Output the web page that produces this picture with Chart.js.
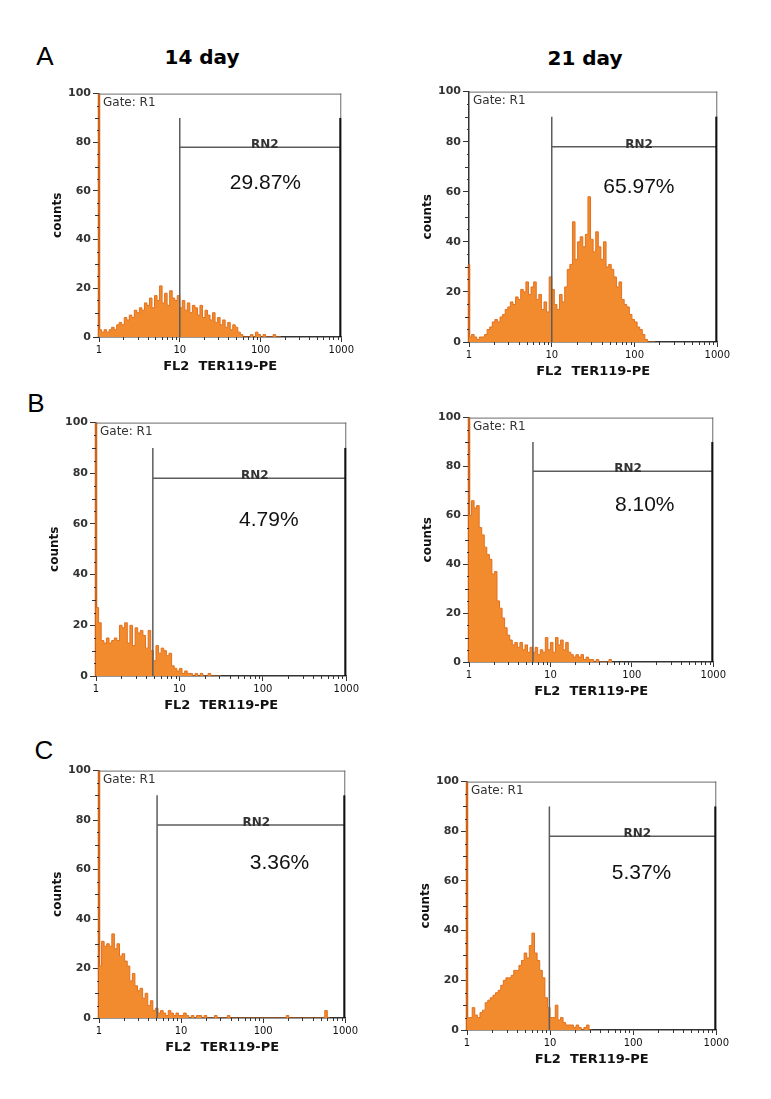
<!DOCTYPE html>
<html>
<head>
<meta charset="utf-8">
<script src="https://cdn.jsdelivr.net/npm/chart.js@4.4.1/dist/chart.umd.min.js"></script>
<style>
  body { margin: 0; background: #fff; width: 771px; height: 1099px; position: relative; overflow: hidden; }
  canvas { position: absolute; }
  .lbl { position: absolute; color: #000; transform: translate(-50%, -50%); white-space: nowrap; line-height: 1; }
  .day { font: bold 20px 'DejaVu Sans', sans-serif; }
  .row { font: 26px 'Liberation Sans', Arial, sans-serif; }
</style>
</head>
<body>
<script>
// --- data ---
const BINS_PER_DECADE = 32;          // histogram channels per log decade, first channel at 1
const dayTitles = ['14 day', '21 day'];
const rowLetters = ['A', 'B', 'C'];
const xTickValues = [1, 10, 100, 1000];
const xTickLabels = ['1', '10', '100', '1000'];
const yTickStep = 20;

const countsA14 = [3,2,3,2,3,4,3,5, 6,5,8,7,9,8,11,10, 12,11,14,13,16,12,17,15, 21,14,18,13,19,16,15,17,
  12,15,11,14,10,13,12,9, 13,8,11,9,7,10,6,8, 5,7,4,6,3,5,4,2, 1,0,0,0,1,0,2,1, 0,1,0,0,0,1,0,0];
const countsA21 = [2,3,2,1,2,2,3,5, 6,8,9,8,10,11,13,14, 16,15,18,17,21,20,24,19, 22,24,17,19,13,16,12,26,
  21,15,13,19,16,22,29,31, 48,33,40,42,38,43,58,41, 36,44,38,33,40,30,31,29, 26,22,24,17,15,14,11,9, 8,6,5,3,1,0,0,0];
const countsB14 = [27,21,14,13,15,13,14,15, 14,20,19,21,13,20,12,19, 17,18,16,11,18,10,6,12, 9,11,10,8,9,4,3,2,
  3,1,2,1,1,0,1,0, 1,0,0,1,0,0,0,0];
const countsB21 = [60,66,63,64,55,52,47,44, 42,36,37,25,22,18,14,11, 9,7,8,6,8,5,7,4, 6,4,6,3,5,4,10,5,
  8,4,10,7,9,5,8,4, 3,2,3,2,3,1,2,1, 1,0,1,0,0,0,0,1];
const countsC14 = [21,31,29,30,29,34,28,30, 25,26,23,21,15,18,13,11, 12,8,10,5,7,3,4,2, 3,2,1,3,2,1,2,1,
  1,2,1,0,1,0,1,1, 0,1,0,0,0,1,0,0, 0,0,1,0,0,0,0,0, 0,0,0,0,0,0,0,0,
  0,0,0,0,0,0,0,0, 0,1,0,0,0,0,0,0, 0,0,0,0,0,0,0,0, 3,0];
const countsC21 = [5,5,9,6,5,7,8,11, 12,13,14,15,16,18,20,21, 21,22,24,24,26,28,31,29, 34,39,31,28,24,21,13,9,
  5,5,10,4,5,3,2,2, 2,1,2,1,0,1,2,0];

const firstChannel = [100, 31, 100, 100, 100, 100];   // off-scale pile-up at channel 1
const gateStart = [10, 10, 4.8, 6.1, 5.1, 9.8];
const gateEnd = 1000;
const gateTop = 90;
const gateBar = 78;
const gatePercent = ['29.87%', '65.97%', '4.79%', '8.10%', '3.36%', '5.37%'];

// --- layout (page px) ---
const plotBoxes = [   // left, top, right, bottom of plot area
  [99, 93, 346, 337], [469, 91, 722, 342],
  [96, 422, 351, 676], [469, 417, 718, 662],
  [99, 770, 350, 1018], [467, 781, 721, 1030]
];
const pctAt = [[115, 63], [113, 62], [118, 61.5], [144, 64], [158, 62.5], [126, 63]];
const titleSpots = [[202, 57], [585, 58]];
const letterSpots = [[45, 56], [36, 403], [44, 750]];
const allCounts = [countsA14, countsA21, countsB14, countsB21, countsC14, countsC21];

const Y_AXIS_W = 52, X_AXIS_H = 38, PAD = { left: 0, top: 8, right: 10, bottom: 2 };

function addLabel(text, cls, [x, y]) {
  const d = document.createElement('div');
  d.className = 'lbl ' + cls;
  d.textContent = text;
  d.style.left = x + 'px';
  d.style.top = y + 'px';
  document.body.appendChild(d);
}
dayTitles.forEach((t, i) => addLabel(t, 'day', titleSpots[i]));
rowLetters.forEach((t, i) => addLabel(t, 'row', letterSpots[i]));

function histPoints(counts) {
  const pts = counts.map((c, i) => ({ x: 10 ** (i / BINS_PER_DECADE), y: c }));
  pts.push({ x: 10 ** (counts.length / BINS_PER_DECADE), y: 0 });
  return pts;
}

function gatePlugin(i) {
  return {
    id: 'gate' + i,
    afterDraw(chart) {
      const { ctx, chartArea: a, scales: { x, y } } = chart;
      const line = (x1, y1, x2, y2) => { ctx.beginPath(); ctx.moveTo(x1, y1); ctx.lineTo(x2, y2); ctx.stroke(); };
      ctx.save();
      // frame
      ctx.strokeStyle = '#6a6a6a'; ctx.lineWidth = 1;
      line(a.left, a.top + 0.5, a.right, a.top + 0.5);
      line(a.right - 0.5, a.top, a.right - 0.5, a.bottom);
      // minor ticks
      ctx.strokeStyle = '#333';
      for (let v = 5; v < 100; v += 5) {
        if (v % yTickStep === 0) continue;
        const py = Math.round(y.getPixelForValue(v)) + 0.5;
        line(a.left - (v % 10 === 0 ? 4 : 2), py, a.left, py);
      }
      for (let d = 1; d < gateEnd; d *= 10) {
        for (let m = 2; m <= 9; m++) {
          const px = Math.round(x.getPixelForValue(m * d)) + 0.5;
          line(px, a.bottom, px, a.bottom + 3);
        }
      }
      // gate marker
      const gx = x.getPixelForValue(gateStart[i]);
      const rx = x.getPixelForValue(gateEnd) - 1;
      const ty = y.getPixelForValue(gateTop);
      const hy = y.getPixelForValue(gateBar);
      const by = y.getPixelForValue(0);
      ctx.strokeStyle = '#5c5c5c'; ctx.lineWidth = 1.5;
      line(gx, ty, gx, by);
      line(gx, hy, rx, hy);
      ctx.strokeStyle = '#111'; ctx.lineWidth = 2;
      line(rx, ty, rx, by);
      // texts
      ctx.fillStyle = '#333';
      ctx.font = '12px "DejaVu Sans"';
      ctx.textAlign = 'left'; ctx.textBaseline = 'middle';
      ctx.fillText('Gate: R1', a.left + 4, a.top + 9);
      ctx.font = 'bold 12px "DejaVu Sans"';
      ctx.textAlign = 'center'; ctx.textBaseline = 'alphabetic';
      ctx.fillText('RN2', gx + (rx - gx) * 0.53, hy + 1);
      ctx.fillStyle = '#111';
      ctx.font = '21px "Liberation Sans", Arial';
      ctx.textBaseline = 'middle';
      ctx.fillText(gatePercent[i], x.getPixelForValue(pctAt[i][0]), y.getPixelForValue(pctAt[i][1]));
      ctx.restore();
    }
  };
}

plotBoxes.forEach(([L, T, R, B], i) => {
  const cv = document.createElement('canvas');
  cv.width = (R - L) + Y_AXIS_W + PAD.right;
  cv.height = (B - T) + PAD.top + X_AXIS_H + PAD.bottom;
  cv.style.left = (L - Y_AXIS_W - PAD.left) + 'px';
  cv.style.top = (T - PAD.top) + 'px';
  document.body.appendChild(cv);

  new Chart(cv.getContext('2d'), {
    type: 'line',
    data: {
      datasets: [
        {
          data: histPoints(allCounts[i]),
          stepped: 'before',
          borderColor: '#e2711e',
          backgroundColor: '#f28a2e',
          borderWidth: 1,
          pointRadius: 0,
          fill: 'origin'
        },
        {
          data: [{ x: 1, y: 0 }, { x: 1, y: firstChannel[i] }],
          borderColor: '#cf6318',
          borderWidth: 2.5,
          pointRadius: 0,
          clip: false,
          fill: false
        }
      ]
    },
    options: {
      responsive: false,
      animation: false,
      layout: { padding: PAD, autoPadding: false },
      plugins: { legend: { display: false }, tooltip: { enabled: false } },
      scales: {
        x: {
          type: 'logarithmic',
          min: 1,
          max: 1000,
          afterBuildTicks: s => { s.ticks = xTickValues.map(v => ({ value: v })); },
          afterFit: s => { s.height = X_AXIS_H; },
          ticks: {
            autoSkip: false,
            maxRotation: 0,
            padding: 2,
            color: '#111',
            font: { family: 'DejaVu Sans', size: 10 },
            callback: (v, idx) => xTickLabels[idx]
          },
          grid: { drawOnChartArea: false, tickLength: 5, color: '#333' },
          border: { color: '#333', width: 1.5 },
          title: {
            display: true,
            text: 'FL2  TER119-PE',
            color: '#111',
            padding: { top: 0, bottom: 1 },
            font: { family: 'DejaVu Sans', size: 13, weight: 'bold' }
          }
        },
        y: {
          min: 0,
          max: 100,
          afterFit: s => { s.width = Y_AXIS_W; },
          ticks: {
            stepSize: yTickStep,
            padding: 2,
            color: '#333',
            font: { family: 'DejaVu Sans', size: 11, weight: 'bold' }
          },
          grid: { drawOnChartArea: false, tickLength: 6, color: '#333' },
          border: { color: '#333', width: 1.5 },
          title: {
            display: true,
            text: 'counts',
            color: '#111',
            padding: { top: 4, bottom: 0 },
            font: { family: 'DejaVu Sans', size: 12, weight: 'bold' }
          }
        }
      }
    },
    plugins: [gatePlugin(i)]
  });
});
</script>
</body>
</html>
